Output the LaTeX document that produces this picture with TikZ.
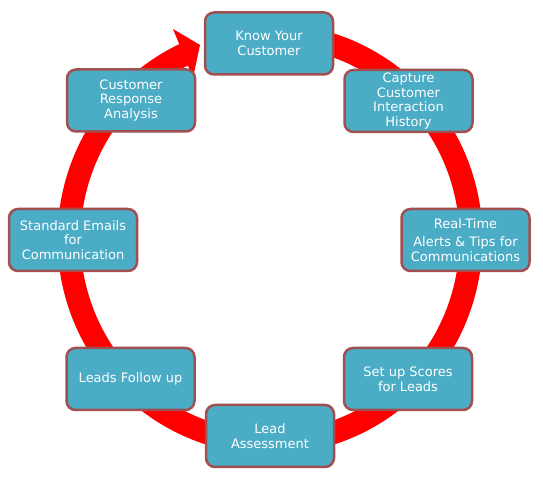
\documentclass[tikz,border=0pt]{standalone}
\usepackage{fontspec}
\setmainfont{DejaVu Sans}
\definecolor{boxfill}{RGB}{75,172,198}
\definecolor{boxline}{RGB}{160,80,80}
\definecolor{ringred}{RGB}{255,0,0}
\begin{document}
\begin{tikzpicture}[x=1pt,y=1pt,
  stepbox/.style={draw=boxline, line width=2.5pt, fill=boxfill, rounded corners=9pt,
    minimum width=128pt, minimum height=62pt, inner sep=2pt, align=center,
    text=white, font=\fontsize{13}{14.7}\selectfont},
  ring/.style={draw=ringred, line width=23pt}]
\useasboundingbox (0,0) rectangle (543,481);
\coordinate (ctr) at (270,242);
% ring with arrow
\draw[ring] (ctr) ++(80:201 and 204) arc[start angle=80, end angle=-246, x radius=201, y radius=204];
\coordinate (tip) at (200,436);
\coordinate (ob) at (173,452);
\coordinate (ib) at (193,403);
\fill[ringred] (tip) -- (ob) -- (ib) -- cycle;
% boxes
\node[stepbox] (n1) at (269,437.5) {Know Your\\Customer};
\node[stepbox] (n2) at (408.5,380) {Capture\\Customer\\Interaction\\History};
\node[stepbox] (n3) at (465.5,241) {Real-Time\\[3pt]Alerts \& Tips for\\Communications};
\node[stepbox] (n4) at (408,102) {Set up Scores\\for Leads};
\node[stepbox] (n5) at (270,45) {Lead\\Assessment};
\node[stepbox] (n6) at (130.5,102) {Leads Follow up};
\node[stepbox] (n7) at (73,241) {Standard Emails\\for\\Communication};
\node[stepbox] (n8) at (131,380.5) {Customer\\Response\\Analysis};
\end{tikzpicture}
\end{document}
